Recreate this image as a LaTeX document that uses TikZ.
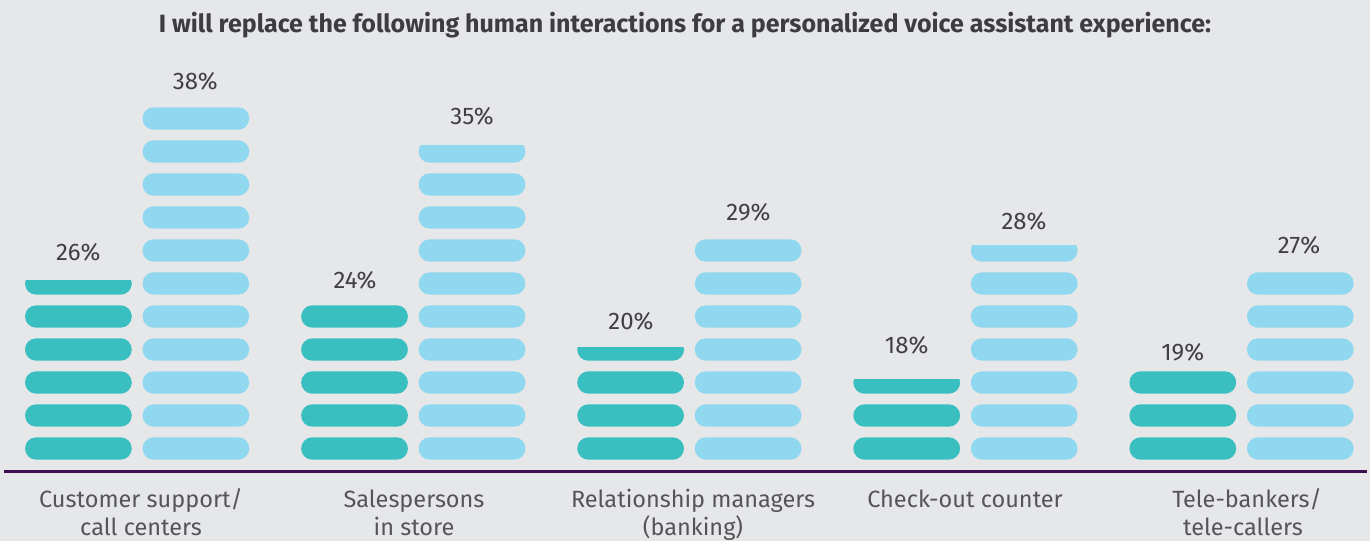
\documentclass[tikz,border=0pt]{standalone}
\usepackage{fontspec}
\setmainfont{Fira Sans}
\definecolor{bgc}{HTML}{E6E7E9}
\definecolor{tealc}{HTML}{3ABFC1}
\definecolor{bluec}{HTML}{8FD8F0}
\definecolor{axisc}{HTML}{3B0F50}
\definecolor{titlec}{HTML}{3D3D3F}
\definecolor{pctc}{HTML}{404042}
\definecolor{catc}{HTML}{555557}
\begin{document}
\begin{tikzpicture}[x=1pt,y=-1pt,
  pilla/.style={fill=tealc, rounded corners=11.2pt},
  pillb/.style={fill=bluec, rounded corners=11.2pt},
  pct/.style={anchor=base, text=pctc, font=\fontsize{24}{28}\selectfont, inner sep=0pt},
  cat/.style={anchor=base, text=catc, font=\fontsize{23.5}{27}\selectfont, inner sep=0pt},
  ttl/.style={anchor=base, text=titlec, font=\fontsize{25}{29}\selectfont\bfseries, inner sep=0pt}]
\fill[bgc] (0,0) rectangle (1370,541);
\useasboundingbox (0,0) rectangle (1370,541);
% title
\node[ttl] (title) at (685,32) {I will replace the following human interactions for a personalized voice assistant experience:};
% bars
\foreach \i/\na/\ca/\nb/\cb in {0/5/280.3/11/0, 1/5/0/9/145, 2/3/347/7/0, 3/2/379/6/245, 4/3/0/6/0}{
  \pgfmathsetmacro\xl{25+276.1*\i}
  \pgfmathsetmacro\xr{\xl+117.5}
  \foreach \k in {1,...,\na}{
    \path[pilla] (\xl,{437.3-33*(\k-1)}) rectangle ++(106.8,22.4);
  }
  \foreach \k in {1,...,\nb}{
    \path[pillb] (\xr,{437.3-33*(\k-1)}) rectangle ++(106.8,22.4);
  }
  \ifdim \ca pt>0pt
    \begin{scope}
      \clip (\xl-2,\ca) rectangle (\xl+110,{437.3-33*\na+24});
      \path[pilla] (\xl,{437.3-33*\na}) rectangle ++(106.8,22.4);
    \end{scope}
  \fi
  \ifdim \cb pt>0pt
    \begin{scope}
      \clip (\xr-2,\cb) rectangle (\xr+110,{437.3-33*\nb+24});
      \path[pillb] (\xr,{437.3-33*\nb}) rectangle ++(106.8,22.4);
    \end{scope}
  \fi
}
% percentage labels
\node[pct] (p1a) at (78.3,260.3) {26\%};
\node[pct] (p1b) at (195.3,89.7) {38\%};
\node[pct] (p2a) at (355,288) {24\%};
\node[pct] (p2b) at (472,124.7) {35\%};
\node[pct] (p3a) at (631,329.7) {20\%};
\node[pct] (p3b) at (748.5,220) {29\%};
\node[pct] (p4a) at (906.7,353.7) {18\%};
\node[pct] (p4b) at (1024,229.7) {28\%};
\node[pct] (p5a) at (1182.7,360.3) {19\%};
\node[pct] (p5b) at (1299,253) {27\%};
% axis
\coordinate (axL) at (4,471.5);
\coordinate (axR) at (1367,471.5);
\draw[axisc, line width=2.5pt] (axL) -- (axR);
% category labels
\node[cat] (c1a) at (141,507.7) {Customer support/};
\node[cat] (c1b) at (141,535.2) {call centers};
\node[cat] (c2a) at (414,507.7) {Salespersons};
\node[cat] (c2b) at (414,535.2) {in store};
\node[cat] (c3a) at (693,507.7) {Relationship managers};
\node[cat] (c3b) at (693,535.2) {(banking)};
\node[cat] (c4a) at (965,507.7) {Check-out counter};
\node[cat] (c5a) at (1247,507.7) {Tele-bankers/};
\node[cat] (c5b) at (1243,535.2) {tele-callers};
\end{tikzpicture}
\end{document}
